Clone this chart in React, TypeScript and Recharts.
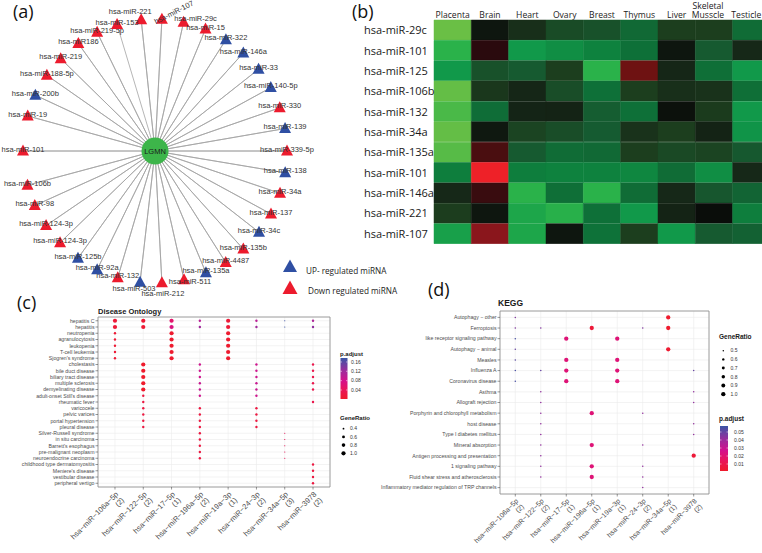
import React from 'react';
import { ScatterChart, Scatter, XAxis, YAxis, ZAxis, CartesianGrid, ReferenceArea, BarChart, Bar, Cell } from 'recharts';

const FONT_PLOT = '"Liberation Sans", Arial, sans-serif';
const FONT_FIG = '"Open Sans", "Noto Sans", sans-serif';

// ---------------- (a) miRNA network ----------------
const hubGene = 'LGMN';
const mirnaNames = ['hsa-miR-221', 'hsa-miR-107', 'hsa-miR-29c', 'hsa-miR-15', 'hsa-miR-322', 'hsa-miR-146a', 'hsa-miR-33', 'hsa-miR-140-5p', 'hsa-miR-330', 'hsa-miR-139', 'hsa-miR-339-5p', 'hsa-miR-138', 'hsa-miR-34a', 'hsa-miR-137', 'hsa-miR-34c', 'hsa-miR-135b', 'hsa-miR-4487', 'hsa-miR-135a', 'hsa-miR-511', 'hsa-miR-212', 'hsa-miR-503', 'hsa-miR-132', 'hsa-miR-92a', 'hsa-miR-125b', 'hsa-miR-124-3p', 'hsa-miR-124-3p', 'hsa-miR-98', 'hsa-miR-106b', 'hsa-miR-101', 'hsa-miR-19', 'hsa-miR-200b', 'hsa-miR-188-5p', 'hsa-miR-219', 'hsa-miR186', 'hsa-miR-219-5p', 'hsa-miR-153'];
const mirnaRegulation = ['down', 'down', 'down', 'down', 'up', 'up', 'up', 'up', 'down', 'up', 'down', 'up', 'down', 'down', 'up', 'down', 'down', 'up', 'down', 'down', 'up', 'down', 'up', 'up', 'down', 'down', 'down', 'down', 'down', 'down', 'up', 'down', 'down', 'down', 'down', 'down'];
// circular layout angle (degrees, counter-clockwise from east)
const mirnaAngle = [96, 87, 77.5, 67.5, 57.5, 48, 38.3, 28.7, 19.1, 9.8, 0, -9.5, -18.7, -28.5, -38, -48, -57.6, -67.3, -77.3, -87, -96.5, -106.4, -116, -125.7, -136, -145.6, -155.6, -165, 180, 164.6, 155, 145, 135.6, 125.5, 116, 106.7];
const layoutRadius = 132;
const legendLabels = ['UP- regulated miRNA', 'Down regulated miRNA'];

// ---------------- (b) heatmap ----------------
const tissues = ['Placenta', 'Brain', 'Heart', 'Ovary', 'Breast', 'Thymus', 'Liver', 'Skeletal Musscle', 'Testicle'];
const heatRows = ['hsa-miR-29c', 'hsa-miR-101', 'hsa-miR-125', 'hsa-miR-106b', 'hsa-miR-132', 'hsa-miR-34a', 'hsa-miR-135a', 'hsa-miR-101', 'hsa-miR-146a', 'hsa-miR-221', 'hsa-miR-107'];
const expression = [
  [1.0, 0.05, 0.2, 0.37, 0.4, 0.55, 0.3, 0.3, 0.57],
  [0.9, -0.15, 0.8, 0.75, 0.7, 0.6, 0.05, 0.45, 0.15],
  [0.8, 0.4, 0.45, 0.3, 0.9, -0.45, 0.14, 0.59, 0.8],
  [0.99, 0.25, 0.14, 0.38, 0.6, 0.3, 0.2, 0.22, 0.59],
  [0.95, 0.58, 0.13, 0.12, 0.47, 0.6, 0.02, 0.28, 0.8],
  [0.99, 0.06, 0.33, 0.38, 0.46, 0.22, 0.3, 0.12, 0.78],
  [0.97, -0.3, 0.45, 0.57, 0.55, 0.3, 0.36, 0.33, 0.44],
  [0.68, -1.0, 0.68, 0.7, 0.7, 0.72, 0.57, 0.75, 0.15],
  [0.15, -0.22, 0.9, 0.59, 0.9, 0.57, 0.15, 0.43, 0.52],
  [0.29, 0.05, 0.85, 0.89, 0.6, 0.8, 0.12, 0.0, 0.68],
  [0.83, -0.55, 0.85, 0.05, 0.61, 0.3, 0.8, 0.45, 0.5],
];

// ---------------- (c) Disease Ontology ----------------
const doTerms = ['hepatitis C', 'hepatitis', 'neutropenia', 'agranulocytosis', 'leukopenia', 'T-cell leukemia', "Sjogren's syndrome", 'cholestasis', 'bile duct disease', 'biliary tract disease', 'multiple sclerosis', 'demyelinating disease', "adult-onset Still's disease", 'rheumatic fever', 'varicocele', 'pelvic varices', 'portal hypertension', 'pleural disease', 'Silver-Russell syndrome', 'in situ carcinoma', "Barrett's esophagus", 'pre-malignant neoplasm', 'neuroendocrine carcinoma', 'childhood type dermatomyositis', "Meniere's disease", 'vestibular disease', 'peripheral vertigo'];
const doMirnas = ['hsa\u2212miR\u2212106a\u22125p', 'hsa\u2212miR\u2212122\u22125p', 'hsa\u2212miR\u221217\u22125p', 'hsa\u2212miR\u2212196a\u22125p', 'hsa\u2212miR\u221219a\u22123p', 'hsa\u2212miR\u221224\u22123p', 'hsa\u2212miR\u221234a\u22125p', 'hsa\u2212miR\u22123978'];
const doCounts = ['(2)', '(2)', '(1)', '(2)', '(1)', '(2)', '(3)', '(2)'];
// [term row, miRNA column, GeneRatio, p.adjust]
const doPoints: number[][] = [
  [1, 1, 1.0, 0.012], [1, 2, 1.0, 0.01], [1, 3, 1.0, 0.055], [1, 4, 0.5, 0.1], [1, 5, 1.0, 0.012], [1, 6, 0.5, 0.1], [1, 7, 0.33, 0.175], [1, 8, 0.5, 0.11],
  [2, 1, 1.0, 0.012], [2, 2, 1.0, 0.01], [2, 3, 1.0, 0.07], [2, 4, 0.5, 0.12], [2, 5, 1.0, 0.012], [2, 6, 0.5, 0.12], [2, 7, 0.33, 0.177], [2, 8, 0.5, 0.13],
  [3, 1, 0.5, 0.01], [3, 3, 1.0, 0.005], [3, 5, 1.0, 0.005],
  [4, 1, 0.5, 0.01], [4, 3, 1.0, 0.005], [4, 5, 1.0, 0.005],
  [5, 1, 0.5, 0.01], [5, 3, 1.0, 0.005], [5, 5, 1.0, 0.005],
  [6, 1, 0.5, 0.01], [6, 3, 1.0, 0.005], [6, 5, 1.0, 0.005],
  [7, 1, 0.5, 0.01], [7, 3, 1.0, 0.005], [7, 5, 1.0, 0.005],
  [8, 2, 1.0, 0.003], [8, 4, 0.5, 0.085], [8, 6, 0.5, 0.085], [8, 8, 0.5, 0.03],
  [9, 2, 1.0, 0.003], [9, 4, 0.5, 0.085], [9, 6, 0.5, 0.085], [9, 8, 0.5, 0.03],
  [10, 2, 1.0, 0.003], [10, 4, 0.5, 0.085], [10, 6, 0.5, 0.085], [10, 8, 0.5, 0.03],
  [11, 2, 1.0, 0.002], [11, 4, 0.5, 0.09], [11, 6, 0.5, 0.09], [11, 8, 0.5, 0.03],
  [12, 2, 1.0, 0.002], [12, 4, 0.5, 0.09], [12, 6, 0.5, 0.09], [12, 8, 0.5, 0.03],
  [13, 2, 0.5, 0.02], [13, 4, 0.5, 0.085], [13, 6, 0.5, 0.085],
  [14, 2, 0.5, 0.02], [14, 8, 0.5, 0.03],
  [15, 2, 0.5, 0.02], [15, 4, 0.5, 0.02], [15, 6, 0.5, 0.02],
  [16, 2, 0.5, 0.02], [16, 4, 0.5, 0.02], [16, 6, 0.5, 0.02],
  [17, 2, 0.5, 0.02], [17, 4, 0.5, 0.02], [17, 6, 0.5, 0.02],
  [18, 2, 0.5, 0.02], [18, 4, 0.5, 0.02], [18, 6, 0.5, 0.02],
  [19, 4, 0.5, 0.02], [19, 7, 0.33, 0.04],
  [20, 4, 0.5, 0.02], [20, 7, 0.33, 0.04],
  [21, 4, 0.5, 0.02], [21, 7, 0.33, 0.04],
  [22, 4, 0.5, 0.02], [22, 7, 0.33, 0.04],
  [23, 4, 0.5, 0.02], [23, 7, 0.33, 0.04],
  [24, 8, 0.5, 0.02], [25, 8, 0.5, 0.02], [26, 8, 0.5, 0.02], [27, 8, 0.5, 0.02],
];
const doPadjDomain = [0.0014, 0.177];
const doPadjBreaks = [0.04, 0.08, 0.12, 0.16];
const doRatioDomain = [0.33, 1.0];
const doRatioBreaks = [0.4, 0.6, 0.8, 1.0];

// ---------------- (d) KEGG ----------------
const keggTerms = ['Autophagy \u2212 other', 'Ferroptosis', 'like receptor signaling pathway', 'Autophagy \u2212 animal', 'Measles', 'Influenza A', 'Coronavirus disease', 'Asthma', 'Allograft rejection', 'Porphyrin and chlorophyll metabolism', 'host disease', 'Type I diabetes mellitus', 'Mineral absorption', 'Antigen processing and presentation', '1 signaling pathway', 'Fluid shear stress and atherosclerosis', 'Inflammatory mediator regulation of TRP channels'];
const keggMirnas = doMirnas;
const keggCounts = ['(2)', '(2)', '(1)', '(1)', '(1)', '(2)', '(1)', '(2)'];
const keggPoints: number[][] = [
  [1, 1, 0.5, 0.045], [1, 7, 1.0, 0.002],
  [2, 1, 0.5, 0.045], [2, 2, 0.5, 0.045], [2, 4, 1.0, 0.005], [2, 6, 0.5, 0.045], [2, 7, 1.0, 0.002],
  [3, 1, 0.5, 0.055], [3, 3, 1.0, 0.021], [3, 5, 1.0, 0.021],
  [4, 1, 0.5, 0.05], [4, 7, 1.0, 0.003],
  [5, 1, 0.5, 0.052], [5, 3, 1.0, 0.021], [5, 5, 1.0, 0.021],
  [6, 1, 0.5, 0.055], [6, 2, 0.5, 0.05], [6, 3, 1.0, 0.021], [6, 5, 1.0, 0.021], [6, 8, 0.5, 0.05],
  [7, 1, 0.5, 0.055], [7, 3, 1.0, 0.021], [7, 5, 1.0, 0.021],
  [8, 2, 0.5, 0.042], [8, 8, 0.5, 0.042],
  [9, 2, 0.5, 0.042], [9, 8, 0.5, 0.042],
  [10, 2, 0.5, 0.042], [10, 4, 1.0, 0.021], [10, 6, 0.5, 0.042],
  [11, 2, 0.5, 0.042], [11, 8, 0.5, 0.042],
  [12, 2, 0.5, 0.042], [12, 8, 0.5, 0.042],
  [13, 2, 0.5, 0.042], [13, 4, 1.0, 0.021], [13, 6, 0.5, 0.042],
  [14, 2, 0.5, 0.042], [14, 8, 1.0, 0.005],
  [15, 2, 0.5, 0.042], [15, 4, 1.0, 0.021], [15, 6, 0.5, 0.042],
  [16, 2, 0.5, 0.042], [16, 4, 1.0, 0.021], [16, 6, 0.5, 0.042],
  [17, 6, 0.5, 0.042],
];
const keggPadjDomain = [0.00125, 0.0575];
const keggPadjBreaks = [0.01, 0.02, 0.03, 0.04, 0.05];
const keggRatioDomain = [0.5, 1.0];
const keggRatioBreaks = [0.5, 0.6, 0.7, 0.8, 0.9, 1.0];

// ---------------- colour helpers ----------------
const heatStops: [number, string][] = [[-1, '#ee2128'], [-0.55, '#8a161c'], [-0.45, '#6e1212'], [-0.3, '#4a0e10'], [-0.15, '#2a0a0e'], [0, '#0a0d0a'], [0.15, '#162818'], [0.3, '#1c3e1e'], [0.45, '#165a30'], [0.6, '#0e7038'], [0.7, '#0e823e'], [0.8, '#11994a'], [0.9, '#2ab24a'], [1, '#6abf45']];
const padjStops: [number, string][] = [[0, '#ef1b2b'], [0.25, '#e8155f'], [0.45, '#d4118c'], [0.7, '#9a2d9d'], [1, '#3a55a6']];

function hexRgb(h: string) {
  return [parseInt(h.slice(1, 3), 16), parseInt(h.slice(3, 5), 16), parseInt(h.slice(5, 7), 16)];
}
function ramp(stops: [number, string][], v: number) {
  if (v <= stops[0][0]) return stops[0][1];
  for (let k = 1; k < stops.length; k++) {
    if (v <= stops[k][0]) {
      const t = (v - stops[k - 1][0]) / (stops[k][0] - stops[k - 1][0]);
      const a = hexRgb(stops[k - 1][1]);
      const b = hexRgb(stops[k][1]);
      return `rgb(${a.map((c, i) => Math.round(c + (b[i] - c) * t)).join(',')})`;
    }
  }
  return stops[stops.length - 1][1];
}
const padjColour = (v: number, dom: number[]) => ramp(padjStops, (v - dom[0]) / (dom[1] - dom[0]));
const areaFor = (v: number, dom: number[], rng: number[]) => rng[0] + ((v - dom[0]) / (dom[1] - dom[0])) * (rng[1] - rng[0]);

// ---------------- (a) chart ----------------
const labelTweaks: Record<string, { dx: number; dy: number; rot?: number }> = {
  '0': { dx: -11, dy: -8 },
  '1': { dx: 12, dy: -7, rot: -27 },
  '2': { dx: 12, dy: -4 },
  '18': { dx: 6, dy: 2 },
  '19': { dx: 1, dy: 11 },
  '20': { dx: -6, dy: 6 },
};

const nodes = mirnaNames.map((name, i) => ({
  i,
  name,
  up: mirnaRegulation[i] === 'up',
  x: layoutRadius * Math.cos((mirnaAngle[i] * Math.PI) / 180),
  y: layoutRadius * Math.sin((mirnaAngle[i] * Math.PI) / 180),
}));
const edges = nodes.flatMap((n) => [{ x: 0, y: 0 }, { x: n.x, y: n.y }]);

const NodeShape = (p: any) => {
  const { cx, cy, payload } = p;
  const col = payload.up ? '#2f4fa3' : '#ec1b2d';
  const st = labelTweaks[String(payload.i)] || { dx: 0, dy: -2 };
  const lx = cx + st.dx;
  const ly = cy + st.dy;
  return (
    <g>
      <polygon points={`${cx},${cy - 6.5} ${cx + 6},${cy + 4.5} ${cx - 6},${cy + 4.5}`} fill={col} />
      <text x={lx} y={ly} dy="0.35em" textAnchor="middle" fontSize={7.5} fill="#333" fontFamily={FONT_PLOT} transform={st.rot ? `rotate(${st.rot} ${lx} ${ly})` : undefined}>
        {payload.name}
      </text>
    </g>
  );
};
const HubShape = (p: any) => (
  <g>
    <circle cx={p.cx} cy={p.cy} r={13.5} fill="#3db54a" />
    <text x={p.cx} y={p.cy} dy="0.35em" textAnchor="middle" fontSize={7.5} fill="#1a1a1a" fontFamily={FONT_PLOT}>{hubGene}</text>
  </g>
);
const Empty = () => <g />;

function Network() {
  return (
    <div style={{ position: 'absolute', left: 0, top: 0 }}>
      <ScatterChart width={345} height={302} margin={{ top: 0, right: 0, bottom: 0, left: 0 }}>
        <XAxis type="number" dataKey="x" domain={[-155, 190]} hide />
        <YAxis type="number" dataKey="y" domain={[-151, 151]} hide />
        <Scatter data={edges} line={{ stroke: '#a3a3a3', strokeWidth: 0.8 }} lineType="joint" shape={Empty} isAnimationActive={false} />
        <Scatter data={nodes} shape={NodeShape} isAnimationActive={false} />
        <Scatter data={[{ x: 0, y: 0 }]} shape={HubShape} isAnimationActive={false} />
      </ScatterChart>
    </div>
  );
}

// ---------------- (b) chart ----------------
const colLabelShift: Record<string, number> = { 'Skeletal Musscle': -6, Testicle: -5 };

function Heatmap() {
  const data = heatRows.map((name, i) => {
    const o: any = { row: i, name };
    tissues.forEach((_, j) => (o[`c${j}`] = 1));
    return o;
  });
  const ColTick = (p: any) => {
    const t = tissues[Math.round(p.payload.value - 0.5)] || '';
    const parts = t.split(' ');
    const x = p.x + (colLabelShift[t] || 0);
    return (
      <text x={x} textAnchor="middle" fontSize={8.6} fill="#222" fontFamily={FONT_FIG}>
        {parts.length > 1 ? (
          <>
            <tspan x={x} y={8.5}>{parts[0]}</tspan>
            <tspan x={x} y={17.5}>{parts[1]}</tspan>
          </>
        ) : (
          <tspan x={x} y={17.5}>{t}</tspan>
        )}
      </text>
    );
  };
  const RowTick = (p: any) => (
    <text x={4} y={p.y} dy="0.36em" fontSize={11} fill="#1a1a1a" fontFamily={FONT_FIG}>{heatRows[p.payload.value]}</text>
  );
  return (
    <div style={{ position: 'absolute', left: 360, top: 0 }}>
      <BarChart width={410} height={244} data={data} layout="vertical" barCategoryGap={0} barGap={0} margin={{ top: 0, right: 0, bottom: 0, left: 0 }}>
        <XAxis type="number" orientation="top" domain={[0, 9]} ticks={[0.5, 1.5, 2.5, 3.5, 4.5, 5.5, 6.5, 7.5, 8.5]} interval={0} height={20} axisLine={false} tickLine={false} tick={ColTick} />
        <YAxis type="category" dataKey="row" width={74} axisLine={false} tickLine={false} tick={RowTick} interval={0} />
        {tissues.map((t, j) => (
          <Bar key={t} dataKey={`c${j}`} stackId="h" isAnimationActive={false}>
            {heatRows.map((r, i) => {
              const c = ramp(heatStops, expression[i][j]);
              return <Cell key={i} fill={c} stroke={c} strokeWidth={0.5} />;
            })}
          </Bar>
        ))}
      </BarChart>
    </div>
  );
}

// ---------------- dot plots (c), (d) ----------------
function DotPanel(props: any) {
  const { terms, mirnas, counts, points, padjDomain, zDomain, zRange, left, top, width, height, margin, yWidth, xFont, yFont } = props;
  const data = points.map((p: number[]) => ({ y: p[0], x: p[1], z: p[2], padj: p[3] }));
  const nX = mirnas.length;
  const nY = terms.length;
  const xt = mirnas.map((_: any, i: number) => i + 1);
  const yt = terms.map((_: any, i: number) => i + 1);
  const XTick = (p: any) => {
    const i = Math.round(p.payload.value) - 1;
    return (
      <g transform={`translate(${p.x},${p.y}) rotate(-45)`}>
        <text textAnchor="end" fontSize={xFont} fill="#4d4d4d" fontFamily={FONT_PLOT}>
          <tspan x={0} dy={xFont * 0.72}>{mirnas[i]}</tspan>
          <tspan x={0} dy={xFont * 1.1}>{counts[i]}</tspan>
        </text>
      </g>
    );
  };
  const YTick = (p: any) => (
    <text x={p.x} y={p.y} dy="0.35em" textAnchor="end" fontSize={yFont} fill="#4d4d4d" fontFamily={FONT_PLOT}>
      {terms[Math.round(p.payload.value) - 1]}
    </text>
  );
  const Dot = (p: any) => {
    const r = p.width ? p.width / 2 : Math.sqrt((p.size || 4) / Math.PI);
    return <circle cx={p.cx} cy={p.cy} r={r} fill={padjColour(p.payload.padj, padjDomain)} />;
  };
  return (
    <div style={{ position: 'absolute', left, top }}>
      <ScatterChart width={width} height={height} margin={margin}>
        <CartesianGrid stroke="#ebebeb" strokeWidth={0.6} />
        <XAxis type="number" dataKey="x" domain={[0.4, nX + 0.6]} ticks={xt} interval={0} height={height - margin.top - margin.bottom - props.plotH} tickSize={2.5} tickMargin={1.5} axisLine={false} tickLine={{ stroke: '#333', strokeWidth: 0.5 }} tick={XTick} />
        <YAxis type="number" dataKey="y" domain={[0.4, nY + 0.6]} reversed ticks={yt} interval={0} width={yWidth} tickSize={2.5} tickMargin={1} axisLine={false} tickLine={{ stroke: '#333', strokeWidth: 0.5 }} tick={YTick} />
        <ZAxis type="number" dataKey="z" domain={zDomain} range={zRange} />
        <ReferenceArea x1={0.4} x2={nX + 0.6} y1={0.4} y2={nY + 0.6} fill="none" stroke="#8c8c8c" strokeWidth={0.8} />
        <Scatter data={data} shape={Dot} isAnimationActive={false} />
      </ScatterChart>
    </div>
  );
}

const doZRange = [1.2, 14];
const keggZRange = [1.8, 14.5];

function ColourBar({ id, x, y, w, h, domain, breaks, labelX }: any) {
  return (
    <g>
      <defs>
        <linearGradient id={id} x1="0" y1="1" x2="0" y2="0">
          {padjStops.map(([o, c]) => <stop key={o} offset={o} stopColor={c} />)}
        </linearGradient>
      </defs>
      <rect x={x} y={y} width={w} height={h} fill={`url(#${id})`} />
      {breaks.map((b: number) => {
        const yy = y + h - ((b - domain[0]) / (domain[1] - domain[0])) * h;
        return (
          <g key={b}>
            <line x1={x} x2={x + 1.5} y1={yy} y2={yy} stroke="#fff" strokeWidth={0.5} />
            <line x1={x + w - 1.5} x2={x + w} y1={yy} y2={yy} stroke="#fff" strokeWidth={0.5} />
            <text x={labelX} y={yy} dy="0.35em" fontSize={5} fill="#333" fontFamily={FONT_PLOT}>{b.toFixed(2)}</text>
          </g>
        );
      })}
    </g>
  );
}

function SizeLegend({ x, y0, step, breaks, dom, rng, labelX }: any) {
  return (
    <g>
      {breaks.map((b: number, i: number) => (
        <g key={b}>
          <circle cx={x} cy={y0 + i * step} r={Math.sqrt(areaFor(b, dom, rng) / Math.PI)} fill="#000" />
          <text x={labelX} y={y0 + i * step} dy="0.35em" fontSize={5} fill="#333" fontFamily={FONT_PLOT}>{b.toFixed(1)}</text>
        </g>
      ))}
    </g>
  );
}

function Overlay() {
  return (
    <svg width={762} height={553} style={{ position: 'absolute', left: 0, top: 0, pointerEvents: 'none' }}>
      <g fontFamily={FONT_FIG} fontSize={18} fill="#111">
        <text x={13} y={17.5}>(a)</text>
        <text x={352} y={17.5}>(b)</text>
        <text x={17} y={309}>(c)</text>
        <text x={428} y={296}>(d)</text>
      </g>
      {/* (a) legend */}
      <polygon points="290,259.5 297,272 283,272" fill="#2f4fa3" />
      <polygon points="290,280.5 297.5,294 282.5,294" fill="#ec1b2d" />
      <text x={306} y={274} fontSize={8.2} fill="#222" fontFamily={FONT_FIG}>{legendLabels[0]}</text>
      <text x={308} y={294} fontSize={8.2} fill="#222" fontFamily={FONT_FIG}>{legendLabels[1]}</text>
      {/* titles */}
      <text x={98} y={313.5} fontSize={7.5} fontWeight="bold" fill="#1a1a1a" fontFamily={FONT_PLOT}>Disease Ontology</text>
      <text x={498} y={306} fontSize={8.5} fontWeight="bold" fill="#1a1a1a" fontFamily={FONT_PLOT}>KEGG</text>
      {/* (c) legends */}
      <text x={340} y={356} fontSize={6} fontWeight="bold" fill="#1a1a1a" fontFamily={FONT_PLOT}>p.adjust</text>
      <ColourBar id="cbc" x={340.5} y={358} w={7} h={41} domain={doPadjDomain} breaks={doPadjBreaks} labelX={351} />
      <text x={340} y={420} fontSize={6} fontWeight="bold" fill="#1a1a1a" fontFamily={FONT_PLOT}>GeneRatio</text>
      <SizeLegend x={343.5} y0={428.7} step={8.2} breaks={doRatioBreaks} dom={doRatioDomain} rng={doZRange} labelX={350} />
      {/* (d) legends */}
      <text x={719} y={339} fontSize={6.5} fontWeight="bold" fill="#1a1a1a" fontFamily={FONT_PLOT}>GeneRatio</text>
      <SizeLegend x={723.3} y0={350.7} step={8.7} breaks={keggRatioBreaks} dom={keggRatioDomain} rng={keggZRange} labelX={730.5} />
      <text x={719} y={421} fontSize={6.5} fontWeight="bold" fill="#1a1a1a" fontFamily={FONT_PLOT}>p.adjust</text>
      <ColourBar id="cbd" x={720} y={426} w={8} h={45} domain={keggPadjDomain} breaks={keggPadjBreaks} labelX={734} />
    </svg>
  );
}

export default function App() {
  return (
    <div style={{ position: 'absolute', left: 0, top: 0, width: 762, height: 553, overflow: 'hidden', background: '#fff', fontFamily: FONT_PLOT }}>
      <Network />
      <Heatmap />
      <DotPanel
        terms={doTerms} mirnas={doMirnas} counts={doCounts} points={doPoints}
        padjDomain={doPadjDomain} zDomain={doRatioDomain} zRange={doZRange}
        left={0} top={300} width={340} height={253} plotH={170}
        margin={{ top: 17, right: 10, bottom: 0, left: 0 }} yWidth={98} xFont={7.5} yFont={5.2}
      />
      <DotPanel
        terms={keggTerms} mirnas={keggMirnas} counts={keggCounts} points={keggPoints}
        padjDomain={keggPadjDomain} zDomain={keggRatioDomain} zRange={keggZRange}
        left={360} top={290} width={360} height={263} plotH={183}
        margin={{ top: 21, right: 11, bottom: 0, left: 0 }} yWidth={140} xFont={7} yFont={5.2}
      />
      <Overlay />
    </div>
  );
}
